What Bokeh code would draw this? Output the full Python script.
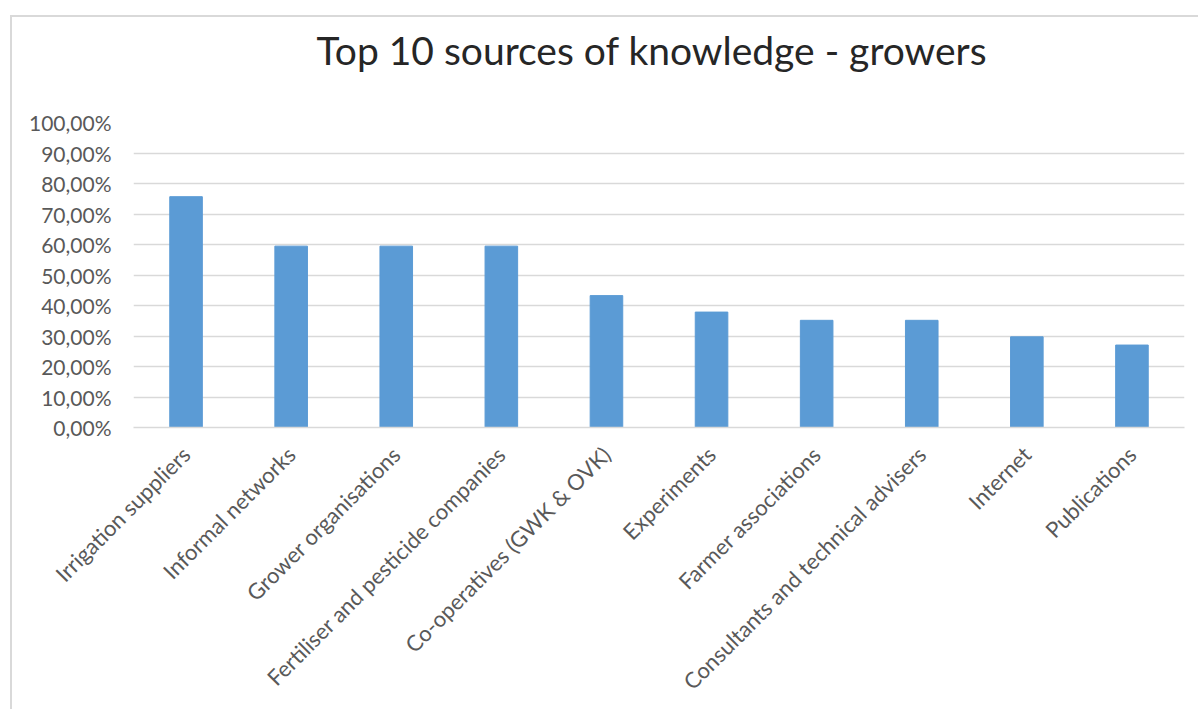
from bokeh.plotting import figure
from bokeh.models import Title, FixedTicker, Range1d
from bokeh.embed import file_html
from bokeh.resources import INLINE
import math

title_text = "Top 10 sources of knowledge - growers"
categories = [
    "Irrigation suppliers",
    "Informal networks",
    "Grower organisations",
    "Fertiliser and pesticide companies",
    "Co-operatives (GWK & OVK)",
    "Experiments",
    "Farmer associations",
    "Consultants and technical advisers",
    "Internet",
    "Publications",
]
shares = [75.68, 59.46, 59.46, 59.46, 43.24, 37.84, 35.14, 35.14, 29.73, 27.03]
y_ticks = [0, 10, 20, 30, 40, 50, 60, 70, 80, 90, 100]
y_tick_labels = {t: f"{t},00%" for t in y_ticks}

FONT = "Lato"
GRID = "#d9d9d9"
TXT = "#595959"

p = figure(
    x_range=categories,
    y_range=Range1d(0, 100),
    width=1188,
    height=694,
    margin=(15, 0, 0, 10),
    styles={"border-left": f"2px solid {GRID}", "border-top": f"2px solid {GRID}"},
    min_border_left=121,
    min_border_right=16,
    min_border_top=105,
    min_border_bottom=284,
    output_backend="svg",
    toolbar_location=None,
    tools="",
)
p.outline_line_color = None
p.background_fill_color = "white"
p.border_fill_color = "white"

# spacer between the frame and the title (nearest to the frame)
p.add_layout(Title(text=" ", text_font_size="1px", standoff=47), "above")
p.add_layout(Title(
    text=title_text, align="left", vertical_align="bottom", standoff=0, offset=183,
    text_font=FONT, text_font_size="39px", text_font_style="normal",
    text_color="#262626",
), "above")

p.vbar(x=categories, top=shares, width=0.31, color="#5b9bd5", line_color="#5b9bd5")

p.yaxis.ticker = FixedTicker(ticks=y_ticks)
p.yaxis.major_label_overrides = y_tick_labels
p.yaxis.axis_line_color = None
p.yaxis.major_tick_line_color = None
p.yaxis.minor_tick_line_color = None
p.yaxis.major_label_standoff = 16
p.yaxis.major_label_text_font = FONT
p.yaxis.major_label_text_font_size = "21px"
p.yaxis.major_label_text_color = TXT

p.xaxis.axis_line_color = GRID
p.xaxis.axis_line_width = 1.5
p.xaxis.major_tick_line_color = None
p.xaxis.minor_tick_line_color = None
p.xaxis.major_label_orientation = math.pi / 4
p.xaxis.major_label_standoff = 17
p.xaxis.major_label_text_font = FONT
p.xaxis.major_label_text_font_size = "22px"
p.xaxis.major_label_text_color = TXT

p.xgrid.grid_line_color = None
p.ygrid.grid_line_color = GRID
p.ygrid.grid_line_width = 1.5

open("out.html", "w").write(file_html(p, INLINE))
